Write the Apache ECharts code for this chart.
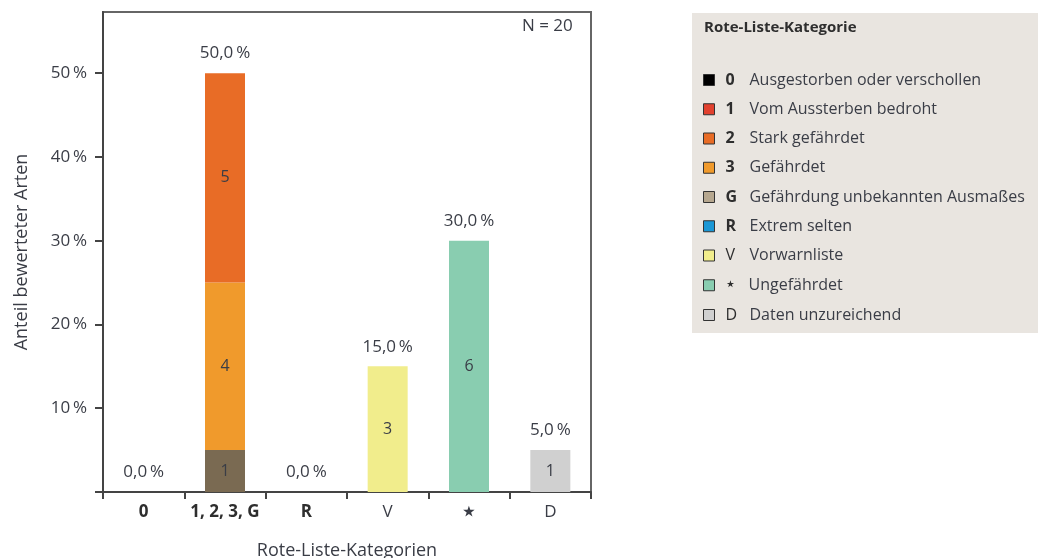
<!DOCTYPE html>
<html>
<head>
<meta charset="utf-8">
<script src="https://cdn.jsdelivr.net/npm/echarts@6/dist/echarts.min.js"></script>
<style>
html,body{margin:0;padding:0;background:#fff;}
#c{width:1038px;height:558px;}
</style>
</head>
<body>
<div id="c"></div>
<script>
// ---- data ----
var N = 20;
var categories = ['0', '1, 2, 3, G', 'R', 'V', '\u22C6', 'D'];
var boldCategories = ['0', '1, 2, 3, G', 'R'];
var yTicks = [10, 20, 30, 40, 50];
// species counts per Rote-Liste status, by x category
var count0 = [0, null, null, null, null, null];
var count1 = [null, 0, null, null, null, null];
var countG = [null, 1, null, null, null, null];
var count3 = [null, 4, null, null, null, null];
var count2 = [null, 5, null, null, null, null];
var countR = [null, null, 0, null, null, null];
var countV = [null, null, null, 3, null, null];
var countStar = [null, null, null, null, 6, null];
var countD = [null, null, null, null, null, 1];
var legendCodes = ['0', '1', '2', '3', 'G', 'R', 'V', '\u22C6', 'D'];
var legendBold = ['0', '1', '2', '3', 'G', 'R'];
var legendNames = ['Ausgestorben oder verschollen', 'Vom Aussterben bedroht', 'Stark gefährdet', 'Gefährdet',
  'Gefährdung unbekannten Ausmaßes', 'Extrem selten', 'Vorwarnliste', 'Ungefährdet', 'Daten unzureichend'];

// ---- styles ----
var barColors = {'0':'#000000','1':'#e2412f','2':'#e86c26','3':'#f09a2c','G':'#7a6a52','R':'#1b97d5','V':'#f1ed8c','\u22C6':'#89cdb0','D':'#d0d0d0'};
var legendColors = {'0':'#000000','1':'#e2412f','2':'#e86c26','3':'#f09a2c','G':'#b6a78f','R':'#1b97d5','V':'#f1ed8c','\u22C6':'#89cdb0','D':'#d0d0d0'};
var FONT = '"Open Sans", "Noto Sans", sans-serif';
var TXT = '#3a3d46';
var FS = 16;
var FSL = 17;
var FSN = 18;

function pct(arr){ return arr.map(function(v){ return v === null ? null : v / N * 100; }); }
function fmtPct(v){ return v.toFixed(1).replace('.', ',') + '\u2009%'; }

var seriesCounts = {'0':count0,'1':count1,'2':count2,'3':count3,'G':countG,'R':countR,'V':countV,'\u22C6':countStar,'D':countD};
var stackOrder = ['0','1','G','3','2','R','V','\u22C6','D'];

var totals = categories.map(function(c, i){
  var s = 0; stackOrder.forEach(function(k){ var v = seriesCounts[k][i]; if (v) s += v; });
  return s / N * 100;
});

var series = stackOrder.map(function(k){
  var counts = seriesCounts[k];
  return {
    name: k,
    type: 'bar',
    stack: 'a',
    barWidth: 40,
    data: pct(counts),
    itemStyle: {color: barColors[k]},
    label: {
      show: true, position: 'inside', color: TXT, fontFamily: FONT, fontSize: FS,
      formatter: function(p){ var c = counts[p.dataIndex]; return c ? String(c) : ''; }
    },
    emphasis: {disabled: true}
  };
});
series.push({
  name: 'total', type: 'bar', barWidth: 40, barGap: '-100%',
  data: totals,
  itemStyle: {color: 'rgba(0,0,0,0)'},
  label: {show: true, position: 'top', distance: 11, color: TXT, fontFamily: FONT, fontSize: FSL,
    formatter: function(p){ return fmtPct(p.value); }},
  emphasis: {disabled: true}, z: 1
});

var chart = echarts.init(document.getElementById('c'), null, {renderer: 'canvas'});
chart.setOption({
  animation: false,
  backgroundColor: '#ffffff',
  grid: {left: 103, right: 447, top: 12, bottom: 66, containLabel: false, outerBoundsMode: 'none',
    show: true, borderColor: '#666', borderWidth: 2, backgroundColor: 'transparent'},
  graphic: [
    {type: 'rect', left: 692, top: 13, shape: {width: 346, height: 320}, style: {fill: '#e9e5e0'}, z: -10},
    {type: 'text', left: 704, top: 20, style: {text: 'Rote-Liste-Kategorie', font: 'bold 15px ' + FONT, fill: '#2e2e2e'}},
    {type: 'text', left: 522, top: 18, style: {text: 'N = 20', font: FSL + 'px ' + FONT, fill: TXT}}
  ],
  legend: {
    orient: 'vertical', left: 703, top: 71, itemGap: 11.25, itemWidth: 11, itemHeight: 11, icon: 'rect',
    selectedMode: false, padding: 0,
    data: legendCodes.map(function(k){ return {name: k, itemStyle: {color: legendColors[k], borderColor: '#333', borderWidth: 1}}; }),
    formatter: function(name){
      var i = legendCodes.indexOf(name);
      var style = legendBold.indexOf(name) >= 0 ? 'c' : (name === '\u22C6' ? 's' : 'n');
      return '{' + style + '|' + name + '}{t|' + legendNames[i] + '}';
    },
    textStyle: {
      fontFamily: FONT, color: TXT, fontSize: FS, lineHeight: 18,
      rich: {
        c: {fontFamily: FONT, fontWeight: 'bold', fontSize: FS, color: '#2e2e2e', width: 24, lineHeight: 18, padding: [0,0,0,6]},
        n: {fontFamily: FONT, fontSize: FS, color: '#2e2e2e', width: 24, lineHeight: 18, padding: [0,0,0,6]},
        s: {fontFamily: 'DejaVu Sans', fontSize: 19, color: '#2e2e2e', width: 24, lineHeight: 18, padding: [0,0,0,5]},
        t: {fontFamily: FONT, fontSize: FS, color: TXT, lineHeight: 18}
      }
    }
  },
  xAxis: {
    type: 'category', data: categories,
    name: 'Rote-Liste-Kategorien', nameLocation: 'middle', nameGap: 50,
    nameTextStyle: {fontFamily: FONT, fontSize: FSN, color: TXT},
    axisLine: {lineStyle: {color: '#444', width: 2}},
    axisTick: {show: true, interval: 0, length: 7, lineStyle: {color: '#444', width: 2}},
    axisLabel: {interval: 0, margin: 12, fontFamily: FONT, fontSize: FSL, color: TXT,
      formatter: function(v){ return boldCategories.indexOf(v) >= 0 ? '{b|' + v + '}' : (v === '\u22C6' ? '{s|' + v + '}' : v); },
      rich: {b: {fontFamily: FONT, fontWeight: 'bold', fontSize: FSL, color: '#2e2e2e'}, s: {fontFamily: 'DejaVu Sans', fontSize: 30, color: TXT, lineHeight: 18}}
    }
  },
  yAxis: {
    type: 'value', min: 0, max: 57.3, interval: 10,
    name: 'Anteil bewerteter Arten', nameLocation: 'middle', nameGap: 72, nameRotate: 90,
    nameTextStyle: {fontFamily: FONT, fontSize: FSN, color: TXT},
    splitLine: {show: false},
    axisLine: {show: true, lineStyle: {color: '#444', width: 2}},
    axisTick: {show: true, length: 8, lineStyle: {color: '#444', width: 2}},
    axisLabel: {margin: 16, fontFamily: FONT, fontSize: FSL, color: TXT, showMaxLabel: false,
      formatter: function(v){ return yTicks.indexOf(v) >= 0 ? v + '\u2009%' : ''; }}
  },
  series: series
});
</script>
</body>
</html>
